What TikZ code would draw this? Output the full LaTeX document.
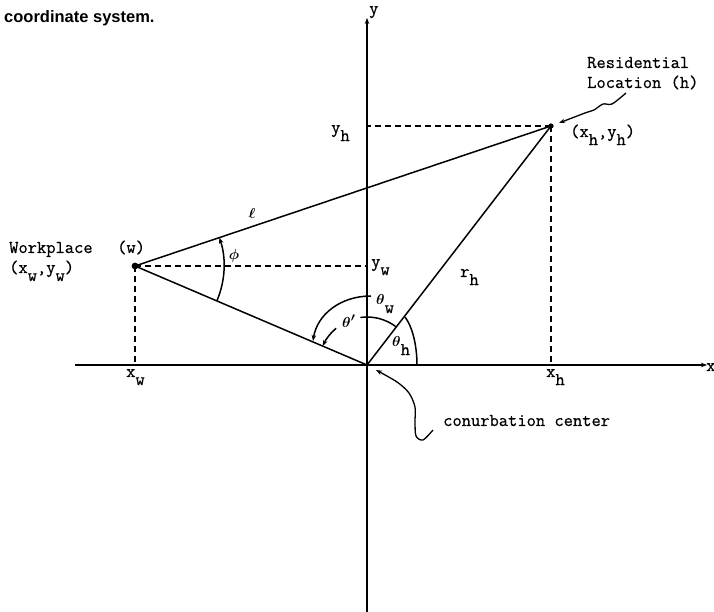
\documentclass[tikz,border=0pt]{standalone}
\usepackage{fontspec}
\setmainfont{Liberation Serif}
\newfontfamily\ttlfont{Liberation Sans}
\newfontfamily\twfont[FakeBold=0.6]{Latin Modern Mono}
\usetikzlibrary{arrows.meta}
\newcommand{\lowr}[1]{\raisebox{-0.45em}{#1}}
\newcommand{\thet}{{\fontsize{15}{16}\selectfont\boldmath$\theta$}}
\begin{document}
\begin{tikzpicture}[x=1pt,y=1pt,
  lbl/.style={font=\twfont\fontsize{18}{20}\selectfont, inner sep=0pt, anchor=base west},
  ax/.style={line width=1.6pt},
  ln/.style={line width=1.5pt},
  sq/.style={line width=1.3pt},
  dsh/.style={line width=1.5pt, dash pattern=on 6pt off 4pt},
  tip/.style={-{Stealth[length=6pt,width=4.5pt]}}
]
\useasboundingbox (0,0) rectangle (714,612);
\fill[white] (0,0) rectangle (714,612);
\coordinate (O) at (367,247);
\coordinate (H) at (551,486);
\coordinate (W) at (135,346);
\coordinate (yb) at (367,0);
\coordinate (yt) at (367,594);
\coordinate (xl) at (75,247);
\coordinate (xr) at (707,247);
\coordinate (yh) at (367,486);
\coordinate (xh) at (551,247);
\coordinate (yw) at (367,346);
\coordinate (xw) at (135,247);

\node[font=\ttlfont\bfseries\fontsize{16.5}{18}\selectfont, inner sep=0pt, anchor=base west] (title) at (4,589) {coordinate system.};

% axes
\draw[ax, tip] (yb) -- (yt);
\draw[ax, tip] (xl) -- (xr);
% dashed projections
\draw[dsh] (H) -- (yh);
\draw[dsh] (H) -- (xh);
\draw[dsh] (W) -- (yw);
\draw[dsh] (W) -- (xw);
% main lines
\draw[ln] (W) -- (H);
\draw[ln] (W) -- (O);
\draw[ln] (O) -- (H);
\fill (W) circle (3.4pt);
\fill (H) circle (2.6pt);

% phi arc
\draw[ln, tip] ([shift={(-23.1:89pt)}]W) arc[start angle=-23.1, end angle=18.6, radius=89pt];
% theta' arc
\draw[ln] ([shift={(52.4:48pt)}]O) arc[start angle=52.4, end angle=98, radius=48pt];
\draw[ln, tip] ([shift={(130:48pt)}]O) arc[start angle=130, end angle=156.9, radius=48pt];
% theta_w arc
\draw[ln] (417,247) .. controls (417,262) and (414,283) .. (405,295);
\draw[ln, tip] (371,316) .. controls (340,316) and (317,297) .. (313,271);

% squiggles
\draw[sq, tip] plot[smooth] coordinates {(626,519) (612,508) (603,508) (594,502) (585,499) (559,489)};
\draw[sq, tip] plot[smooth] coordinates {(433,182) (423,172) (416,176) (415,190) (415,205) (409,219) (397,230) (376,242)};

% labels
\node[lbl] (res1) at (587,544) {Residential};
\node[lbl] (res2) at (587,524) {Location (h)};
\node[lbl] (hc) at (570,475) {(x\lowr{h},y\lowr{h})};
\node[lbl] (wp) at (9,359) {Workplace};
\node[lbl] (wtag) at (117,359) {(w)};
\node[lbl] (wc) at (9,339) {(x\lowr{w},y\lowr{w})};
\node[lbl] (cc) at (443,186) {conurbation center};
\node[lbl] (xwl) at (126,235) {x\lowr{w}};
\node[lbl] (xhl) at (546,235) {x\lowr{h}};
\node[lbl] (yhl) at (331,479) {y\lowr{h}};
\node[lbl] (ywl) at (371,345) {y\lowr{w}};
\node[lbl] (xax) at (706,241) {x};
\node[lbl] (yax) at (369,598) {y};
\node[lbl] (rh) at (460,335) {r\lowr{h}};
\node[lbl] (thw) at (376,307) {\thet\lowr{w}};
\node[lbl] (thh) at (392,265) {\thet\lowr{h}};
\node[lbl] (thp) at (342,284) {\thet{\boldmath$'$}};
\node[font=\fontsize{15}{17}\selectfont\boldmath, inner sep=0pt] (phi) at (234,356) {$\phi$};
\node[font=\fontsize{15}{17}\selectfont\boldmath, inner sep=0pt] (ell) at (252,398) {$\ell$};
\end{tikzpicture}
\end{document}
